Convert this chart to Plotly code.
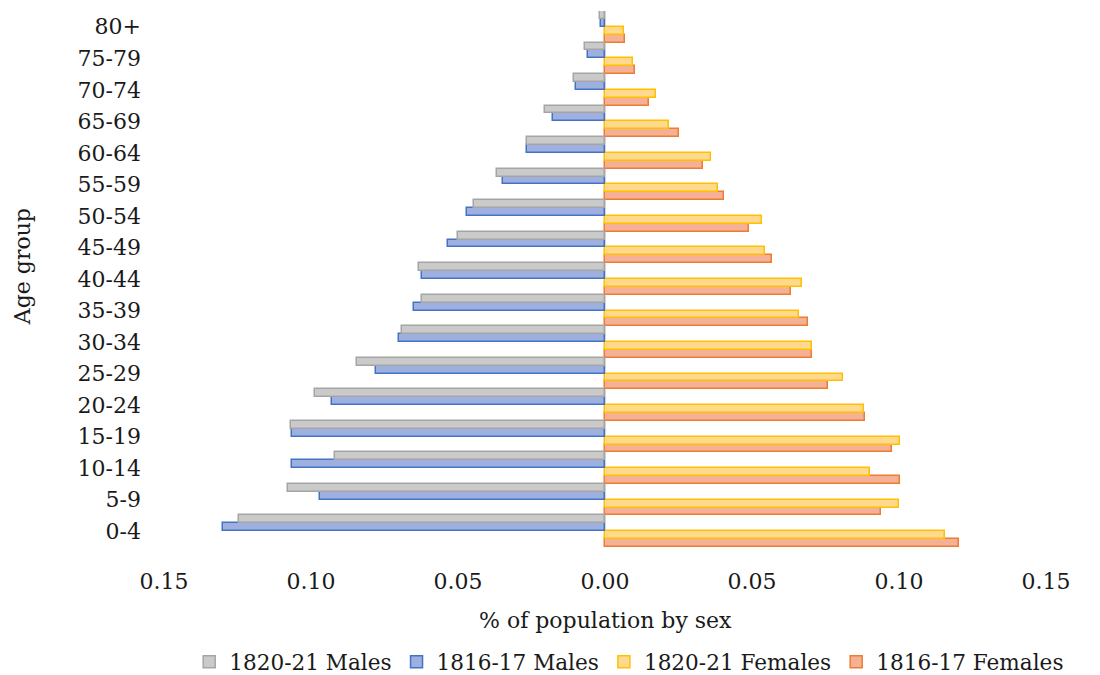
import plotly.graph_objects as go

# Age groups, youngest first (bottom of the pyramid)
age_groups = ["0-4", "5-9", "10-14", "15-19", "20-24", "25-29", "30-34", "35-39",
              "40-44", "45-49", "50-54", "55-59", "60-64", "65-69", "70-74", "75-79", "80+"]

# Share of population by sex in each age group
males_1820_21 = [0.1244, 0.1078, 0.0917, 0.1068, 0.0986, 0.0844, 0.0690, 0.0621, 0.0633,
                 0.0500, 0.0447, 0.0366, 0.0264, 0.0204, 0.0105, 0.0069, 0.0017]
males_1816_17 = [0.1301, 0.0969, 0.1065, 0.1066, 0.0929, 0.0779, 0.0699, 0.0651, 0.0622,
                 0.0533, 0.0470, 0.0347, 0.0266, 0.0177, 0.0097, 0.0058, 0.0014]
females_1820_21 = [0.1156, 0.1000, 0.0902, 0.1003, 0.0880, 0.0808, 0.0703, 0.0659, 0.0669,
                   0.0543, 0.0534, 0.0385, 0.0362, 0.0219, 0.0173, 0.0094, 0.0065]
females_1816_17 = [0.1203, 0.0939, 0.1003, 0.0976, 0.0885, 0.0757, 0.0704, 0.0692, 0.0634,
                   0.0569, 0.0490, 0.0406, 0.0332, 0.0251, 0.0151, 0.0101, 0.0069]

tick_values = [-0.15, -0.10, -0.05, 0.0, 0.05, 0.10, 0.15]
tick_labels = ["0.15", "0.10", "0.05", "0.00", "0.05", "0.10", "0.15"]

FONT = "DejaVu Serif"
TEXT = "#1a1a1a"

# (name, values, sign, fill, outline) -- bottom bar of each group is added first
series = [
    ("1816-17 Females", females_1816_17, 1, "#f4b196", "#ed7d31"),
    ("1820-21 Females", females_1820_21, 1, "#ffd98e", "#ffc000"),
    ("1816-17 Males", males_1816_17, -1, "#9db0e0", "#4472c4"),
    ("1820-21 Males", males_1820_21, -1, "#cacaca", "#a5a5a5"),
]

fig = go.Figure()
for name, vals, sign, fill, line in series:
    fig.add_trace(go.Bar(
        name=name,
        y=age_groups,
        x=[sign * v for v in vals],
        orientation="h",
        marker=dict(color=fill, line=dict(color=line, width=1.5)),
    ))

fig.update_layout(
    width=1100,
    height=675,
    barmode="group",
    bargap=0.0,
    bargroupgap=0.0,
    plot_bgcolor="white",
    paper_bgcolor="white",
    margin=dict(l=164, r=54, t=11, b=128, autoexpand=False),
    font=dict(family=FONT, size=22, color=TEXT),
    xaxis=dict(
        range=[-0.15, 0.15],
        tickvals=tick_values,
        ticktext=tick_labels,
        showgrid=False,
        zeroline=True,
        zerolinecolor="#d4d4d4",
        zerolinewidth=2,
        showline=False,
        ticks="",
        ticklabelstandoff=19,
        tickfont=dict(family=FONT, size=22, color=TEXT),
    ),
    yaxis=dict(
        type="category",
        showgrid=False,
        showline=False,
        ticks="",
        ticklabelstandoff=22,
        tickfont=dict(family=FONT, size=22, color=TEXT),
    ),
    legend=dict(
        orientation="h",
        traceorder="reversed",
        xref="container",
        yref="container",
        x=0.572,
        xanchor="center",
        y=0.019,
        yanchor="middle",
        font=dict(family=FONT, size=21.6, color=TEXT),
        itemwidth=30,
        tracegroupgap=0,
    ),
    annotations=[
        dict(text="% of population by sex", xref="paper", yref="paper",
             x=0.5, y=-0.137, xanchor="center", yanchor="middle",
             showarrow=False, font=dict(family=FONT, size=22, color=TEXT)),
        dict(text="Age group", xref="paper", yref="paper",
             x=-0.161, y=0.524, xanchor="center", yanchor="middle", textangle=-90,
             showarrow=False, font=dict(family=FONT, size=22, color=TEXT)),
    ],
)

fig.write_html("out.html")
